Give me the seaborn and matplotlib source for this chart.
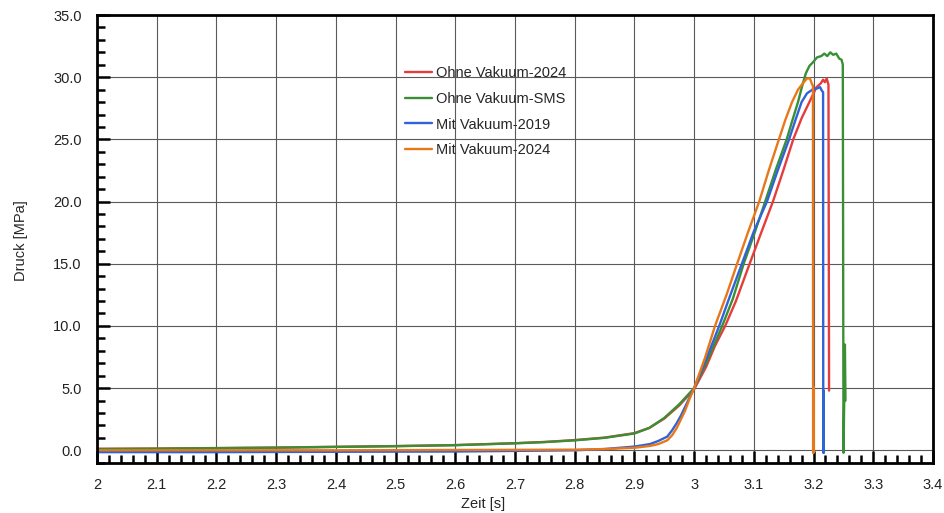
import pandas as pd
import numpy as np
import matplotlib
matplotlib.use("Agg")
import matplotlib.pyplot as plt
from matplotlib.ticker import MultipleLocator, FormatStrFormatter, FuncFormatter
import seaborn as sns

# Ohne Vakuum-2024 (rot)
t_ohne_2024 = [2.0, 2.1, 2.2, 2.3, 2.4, 2.5, 2.6, 2.7, 2.75, 2.8, 2.85, 2.9, 2.925, 2.95,
               2.975, 3.0, 3.02, 3.035, 3.052, 3.07, 3.093, 3.11, 3.132, 3.15, 3.166,
               3.18, 3.195, 3.205, 3.212, 3.216, 3.219, 3.222, 3.225, 3.226]
p_ohne_2024 = [0.12, 0.14, 0.18, 0.22, 0.28, 0.34, 0.42, 0.57, 0.67, 0.82, 1.02, 1.38, 1.8, 2.55,
               3.6, 4.9, 6.7, 8.4, 10.0, 12.0, 15.0, 17.2, 20.0, 22.6, 25.0,
               26.7, 28.2, 29.2, 29.5, 29.8, 29.6, 29.9, 29.4, 4.8]

# Ohne Vakuum-SMS (gruen)
t_ohne_sms = [2.0, 2.1, 2.2, 2.3, 2.4, 2.5, 2.6, 2.7, 2.75, 2.8, 2.85, 2.9, 2.925, 2.95,
              2.975, 3.0, 3.02, 3.047, 3.065, 3.083, 3.1, 3.119, 3.137, 3.155, 3.165,
              3.174, 3.181, 3.187, 3.193, 3.199, 3.206, 3.213, 3.218, 3.223, 3.228, 3.233,
              3.238, 3.243, 3.247, 3.249, 3.2502, 3.2515, 3.2525, 3.2535]
p_ohne_sms = [0.1, 0.13, 0.17, 0.21, 0.27, 0.33, 0.41, 0.56, 0.66, 0.8, 1.0, 1.35, 1.8, 2.6,
              3.7, 5.0, 7.0, 10.0, 12.2, 15.0, 17.3, 20.0, 22.6, 25.0, 26.6,
              28.0, 29.3, 30.3, 30.9, 31.2, 31.6, 31.7, 31.9, 31.7, 32.0, 31.8,
              31.9, 31.5, 31.4, 31.0, -0.2, 4.5, 8.5, 4.0]

# Mit Vakuum-2019 (blau)
t_mit_2019 = [2.0, 2.2, 2.4, 2.6, 2.8, 2.85, 2.9, 2.926, 2.94, 2.955, 2.963, 2.971, 2.978,
              2.985, 2.992, 3.0, 3.02, 3.042, 3.06, 3.08, 3.1, 3.122, 3.14, 3.159, 3.17,
              3.18, 3.189, 3.198, 3.206, 3.211, 3.214, 3.216, 3.2163, 3.2168, 3.2172]
p_mit_2019 = [-0.15, -0.15, -0.12, -0.1, 0.0, 0.1, 0.3, 0.5, 0.75, 1.1, 1.6, 2.2, 2.8,
              3.5, 4.2, 5.0, 7.3, 10.0, 12.4, 15.0, 17.6, 20.0, 22.5, 25.0, 26.6,
              28.0, 28.7, 29.0, 29.1, 29.2, 28.9, 28.8, -0.2, 4.8, -0.2]

# Mit Vakuum-2024 (orange)
t_mit_2024 = [2.0, 2.4, 2.8, 2.85, 2.9, 2.926, 2.94, 2.955, 2.963, 2.971, 2.978, 2.985,
              2.992, 3.0, 3.018, 3.035, 3.055, 3.072, 3.09, 3.109, 3.125, 3.142, 3.153,
              3.164, 3.174, 3.182, 3.189, 3.194, 3.197, 3.199, 3.1993, 3.1998, 3.2002]
p_mit_2024 = [0.0, 0.0, 0.05, 0.1, 0.2, 0.35, 0.5, 0.8, 1.2, 1.8, 2.5, 3.2,
              4.1, 5.0, 7.4, 10.0, 12.6, 15.0, 17.5, 20.0, 22.5, 25.0, 26.6,
              28.0, 29.0, 29.5, 29.9, 29.9, 29.5, 29.3, -0.2, 5.1, -0.2]

labels = ["Ohne Vakuum-2024", "Ohne Vakuum-SMS", "Mit Vakuum-2019", "Mit Vakuum-2024"]
colors = ["#e63c3c", "#3a8f35", "#3163d8", "#e8771a"]

frames = []
for lab, t, p in zip(labels, [t_ohne_2024, t_ohne_sms, t_mit_2019, t_mit_2024],
                     [p_ohne_2024, p_ohne_sms, p_mit_2019, p_mit_2024]):
    d = pd.DataFrame({"Zeit": t, "Druck": p})
    d["Serie"] = lab
    frames.append(d)
df = pd.concat(frames, ignore_index=True)

sns.set_style("white")
plt.rcParams["font.family"] = ["Liberation Sans", "DejaVu Sans"]

fig = plt.figure(figsize=(9.44, 5.13), dpi=100)
ax = fig.add_axes([0.1028, 0.098, 0.8855, 0.8727])

sns.lineplot(data=df, x="Zeit", y="Druck", hue="Serie", hue_order=labels,
             palette=colors, sort=False, estimator=None, units="Serie",
             linewidth=1.7, ax=ax, legend=True)

ax.set_xlim(2.0, 3.4)
ax.set_ylim(-1.0, 35.0)
ax.xaxis.set_major_locator(MultipleLocator(0.1))
ax.xaxis.set_minor_locator(MultipleLocator(0.02))
ax.yaxis.set_major_locator(MultipleLocator(5))
ax.yaxis.set_minor_locator(MultipleLocator(1))
ax.xaxis.set_major_formatter(FuncFormatter(lambda v, pos: "%g" % round(v, 2)))
ax.yaxis.set_major_formatter(FormatStrFormatter("%.1f"))

ax.grid(True, which="major", color="#5a5a5a", linewidth=0.8)
ax.set_axisbelow(True)
for s in ax.spines.values():
    s.set_visible(True)
    s.set_color("black")
    s.set_linewidth(2.0)

ax.tick_params(which="both", direction="in", colors="black", labelcolor="#222222",
               labelsize=10.5, bottom=True, left=True, top=False, right=False)
ax.tick_params(which="major", length=9, width=1.8, pad=11)
ax.tick_params(which="minor", length=5.5, width=1.8)

ax.set_xlabel("Zeit [s]", fontsize=10.5)
ax.set_ylabel("Druck [MPa]", fontsize=10.5)
ax.xaxis.set_label_coords(0.462, -0.076)
ax.yaxis.set_label_coords(-0.083, 0.495)

ax.legend(loc="upper left", bbox_to_anchor=(0.429, 0.871), bbox_transform=fig.transFigure,
          frameon=False, fontsize=10.5, handlelength=1.85, handletextpad=0.25,
          labelspacing=0.8, borderpad=0, borderaxespad=0)

fig.savefig("out.png", dpi=100)
